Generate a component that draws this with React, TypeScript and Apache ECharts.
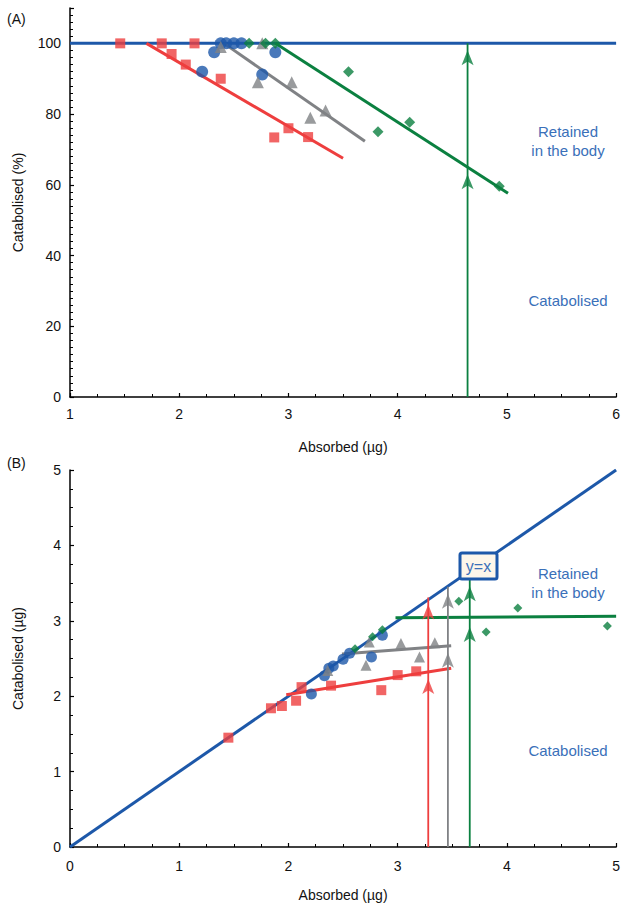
import React, { useEffect, useRef } from "react";
import * as echarts from "echarts";

// ---------- Panel A data (Absorbed µg, Catabolised %) ----------
const aRed: number[][] = [[1.46, 100], [1.84, 100], [1.93, 97], [2.06, 94], [2.14, 100], [2.38, 90], [2.87, 73.4], [3.0, 76], [3.18, 73.5]];
const aBlue: number[][] = [[2.21, 92], [2.32, 97.5], [2.38, 100], [2.43, 100], [2.5, 100], [2.57, 100], [2.76, 91.2], [2.88, 97.5]];
const aGray: number[][] = [[2.38, 99], [2.72, 89], [2.76, 100], [3.03, 89], [3.2, 79], [3.34, 81]];
const aGreen: number[][] = [[2.64, 100], [2.79, 100], [2.88, 100], [3.55, 92], [3.82, 75], [4.11, 77.7], [4.93, 59.6]];
const aRedFit: number[][] = [[1.7, 100], [3.5, 67.5]];
const aGrayFit: number[][] = [[2.41, 100], [3.7, 72.3]];
const aGreenFit: number[][] = [[2.88, 100], [5.01, 57.6]];
const aRef: number[][] = [[1, 100], [6, 100]];
const aGreenArrow = { x: 4.64, mid: 65, top: 100 };

// ---------- Panel B data (Absorbed µg, Catabolised µg) ----------
const bRed: number[][] = [[1.45, 1.45], [1.84, 1.84], [1.94, 1.87], [2.07, 1.94], [2.12, 2.12], [2.39, 2.14], [2.85, 2.08], [3.0, 2.28], [3.17, 2.33]];
const bBlue: number[][] = [[2.21, 2.03], [2.33, 2.27], [2.37, 2.37], [2.41, 2.4], [2.5, 2.49], [2.56, 2.57], [2.76, 2.52], [2.86, 2.81]];
const bGray: number[][] = [[2.36, 2.34], [2.71, 2.41], [2.74, 2.72], [3.03, 2.7], [3.2, 2.52], [3.34, 2.71]];
const bGreen: number[][] = [[2.61, 2.63], [2.77, 2.79], [2.86, 2.88], [3.56, 3.26], [3.81, 2.85], [4.1, 3.17], [4.92, 2.93]];
const bRedFit: number[][] = [[1.98, 2.02], [3.49, 2.37]];
const bGrayFit: number[][] = [[2.49, 2.56], [3.49, 2.67]];
const bGreenFit: number[][] = [[2.98, 3.04], [5.0, 3.06]];
const bIdentity: number[][] = [[0, 0], [5, 5]];
const bRedArrow = { x: 3.28, mid: 2.32, top: 3.31 };
const bGrayArrow = { x: 3.46, mid: 2.67, top: 3.45 };
const bGreenArrow = { x: 3.66, mid: 3.01, top: 3.55 };

const RED = "#ee3e3e";
const BLUE = "#1d58a9";
const GRAY = "#808285";
const GREEN = "#0b8040";
const TXT_BLUE = "#3a70b9";
const FONT = "Liberation Sans";

export default function App() {
  const ref = useRef<HTMLDivElement>(null);
  useEffect(() => {
    if (!ref.current) return;
    const chart = echarts.init(ref.current, null, { renderer: "svg" });

    const scatter = (data: number[][], idx: number, symbol: string, size: number, color: string) => ({
      type: "scatter",
      xAxisIndex: idx,
      yAxisIndex: idx,
      data,
      symbol,
      symbolSize: size,
      itemStyle: { color },
      z: 5,
    });
    const fit = (data: number[][], idx: number, color: string, width = 3) => ({
      type: "line",
      xAxisIndex: idx,
      yAxisIndex: idx,
      data,
      symbol: "none",
      lineStyle: { color, width },
      z: 3,
    });
    const shaft = (idx: number, color: string, a: { x: number; top: number }) => ({
      type: "line",
      xAxisIndex: idx,
      yAxisIndex: idx,
      data: [[a.x, 0], [a.x, a.top]],
      symbol: "none",
      lineStyle: { color, width: 1.8 },
      z: 4,
    });
    const heads = (idx: number, color: string, a: { x: number; mid: number; top: number }) => ({
      type: "scatter",
      xAxisIndex: idx,
      yAxisIndex: idx,
      data: [[a.x, a.mid], [a.x, a.top]],
      symbol: "arrow",
      symbolSize: [9, 15],
      symbolOffset: [0, 7],
      itemStyle: { color },
      z: 4,
    });

    const axisCommon = {
      axisLine: { lineStyle: { color: "#000", width: 1.5 } },
      axisTick: { inside: true, length: 4, lineStyle: { color: "#000", width: 1.2 } },
      minorTick: { show: true, length: 3, lineStyle: { color: "#000", width: 1 } },
      splitLine: { show: false },
      axisLabel: { color: "#111", fontSize: 14, fontFamily: FONT },
      nameTextStyle: { color: "#111", fontSize: 14, fontFamily: FONT },
    };

    chart.setOption({
      animation: false,
      grid: [
        { left: 70, top: 8, width: 549, height: 389 },
        { left: 70, top: 470, width: 547, height: 377 },
      ],
      xAxis: [
        {
          ...axisCommon,
          gridIndex: 0,
          type: "value",
          min: 1,
          max: 6,
          interval: 1,
          minorTick: { ...axisCommon.minorTick, splitNumber: 4 },
          axisLabel: { ...axisCommon.axisLabel, margin: 10 },
          name: "Absorbed (µg)",
          nameLocation: "middle",
          nameGap: 43,
        },
        {
          ...axisCommon,
          gridIndex: 1,
          type: "value",
          min: 0,
          max: 5,
          interval: 1,
          minorTick: { ...axisCommon.minorTick, splitNumber: 4 },
          axisLabel: { ...axisCommon.axisLabel, margin: 12 },
          name: "Absorbed (µg)",
          nameLocation: "middle",
          nameGap: 41,
        },
      ],
      yAxis: [
        {
          ...axisCommon,
          gridIndex: 0,
          type: "value",
          min: 0,
          max: 110,
          interval: 20,
          minorTick: { ...axisCommon.minorTick, splitNumber: 10 },
          axisLabel: { ...axisCommon.axisLabel, margin: 9, showMaxLabel: false },
          name: "Catabolised (%)",
          nameLocation: "middle",
          nameGap: 45,
        },
        {
          ...axisCommon,
          gridIndex: 1,
          type: "value",
          min: 0,
          max: 5,
          interval: 1,
          minorTick: { ...axisCommon.minorTick, splitNumber: 4 },
          axisLabel: { ...axisCommon.axisLabel, margin: 9 },
          name: "Catabolised (µg)",
          nameLocation: "middle",
          nameGap: 45,
        },
      ],
      series: [
        // Panel A
        fit(aRef, 0, BLUE, 3),
        fit(aRedFit, 0, RED),
        fit(aGrayFit, 0, GRAY),
        fit(aGreenFit, 0, GREEN),
        shaft(0, GREEN, aGreenArrow),
        heads(0, GREEN, aGreenArrow),
        scatter(aRed, 0, "rect", 10, RED),
        scatter(aBlue, 0, "circle", 12, BLUE),
        scatter(aGray, 0, "triangle", 12, GRAY),
        scatter(aGreen, 0, "diamond", 11, GREEN),
        // Panel B
        fit(bIdentity, 1, BLUE, 3),
        fit(bRedFit, 1, RED),
        fit(bGrayFit, 1, GRAY),
        fit(bGreenFit, 1, GREEN),
        shaft(1, RED, bRedArrow),
        heads(1, RED, bRedArrow),
        shaft(1, GRAY, bGrayArrow),
        heads(1, GRAY, bGrayArrow),
        shaft(1, GREEN, bGreenArrow),
        heads(1, GREEN, bGreenArrow),
        scatter(bRed, 1, "rect", 10, RED),
        scatter(bBlue, 1, "circle", 11, BLUE),
        scatter(bGray, 1, "triangle", 11, GRAY),
        scatter(bGreen, 1, "diamond", 9, GREEN),
      ],
      graphic: [
        { type: "text", left: 7, top: 12, style: { text: "(A)", fontSize: 14, fontFamily: FONT, fill: "#111" } },
        { type: "text", left: 7, top: 456, style: { text: "(B)", fontSize: 14, fontFamily: FONT, fill: "#111" } },
        {
          type: "text", x: 568, y: 141,
          style: { text: "Retained\nin the body", fontSize: 15, lineHeight: 19, fontFamily: FONT, fill: TXT_BLUE, align: "center", verticalAlign: "middle" },
        },
        {
          type: "text", x: 568, y: 300,
          style: { text: "Catabolised", fontSize: 15, fontFamily: FONT, fill: TXT_BLUE, align: "center", verticalAlign: "middle" },
        },
        {
          type: "text", x: 568, y: 583,
          style: { text: "Retained\nin the body", fontSize: 15, lineHeight: 19, fontFamily: FONT, fill: TXT_BLUE, align: "center", verticalAlign: "middle" },
        },
        {
          type: "text", x: 568, y: 750,
          style: { text: "Catabolised", fontSize: 15, fontFamily: FONT, fill: TXT_BLUE, align: "center", verticalAlign: "middle" },
        },
        {
          type: "rect", x: 460, y: 553, z: 100, zlevel: 1,
          shape: { x: 0, y: 0, width: 37, height: 26, r: 2 },
          style: { fill: "#fdf6ea", stroke: BLUE, lineWidth: 3 },
        },
        {
          type: "text", x: 478.5, y: 566.5, z: 101, zlevel: 1,
          style: { text: "y=x", fontSize: 16, fontFamily: FONT, fill: TXT_BLUE, align: "center", verticalAlign: "middle" },
        },
      ],
    });
    return () => chart.dispose();
  }, []);
  return <div ref={ref} style={{ position: "absolute", left: 0, top: 0, width: 623, height: 907 }} />;
}
